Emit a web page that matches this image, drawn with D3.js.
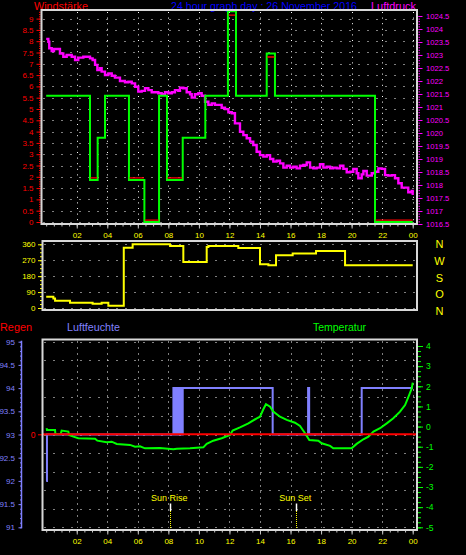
<!DOCTYPE html>
<html><head><meta charset="utf-8">
<script src="https://cdn.jsdelivr.net/npm/d3@7"></script>
<style>
html,body{margin:0;padding:0;background:#000;overflow:hidden;}
svg{display:block;}
text{font-family:"Liberation Sans",Arial,sans-serif;}
</style></head><body>
<svg id="c" width="466" height="555"></svg>
<script>
// ---------- DATA ----------
const hourTicks = [2,4,6,8,10,12,14,16,18,20,22,24];
const hourLabels = ["02","04","06","08","10","12","14","16","18","20","22","00"];
const windTicks = [0,0.5,1,1.5,2,2.5,3,3.5,4,4.5,5,5.5,6,6.5,7,7.5,8,8.5,9];
const windLabels = ["0","0.5","1","1.5","2","2.5","3","3.5","4","4.5","5","5.5","6","6.5","7","7.5","8","8.5","9"];
const pressTicks = [1016.5,1017,1017.5,1018,1018.5,1019,1019.5,1020,1020.5,1021,1021.5,1022,1022.5,1023,1023.5,1024,1024.5];
const pressLabels = ["1016.5","1017","1017.5","1018","1018.5","1019","1019.5","1020","1020.5","1021","1021.5","1022","1022.5","1023","1023.5","1024","1024.5"];
const dirTicks = [0,90,180,270,360];
const dirLabels = ["0","90","180","270","360"];
const dirLetters = ["N","W","S","O","N"];
const humTicks = [91,91.5,92,92.5,93,93.5,94,94.5,95];
const humLabels = ["91","91.5","92","92.5","93","93.5","94","94.5","95"];
const tempTicks = [-5,-4,-3,-2,-1,0,1,2,3,4];
const tempLabels = ["-5","-4","-3","-2","-1","0","1","2","3","4"];
const rainTicks = [0];
const rainLabels = ["0"];
const sunTimes = [8.13, 16.38];
const sunLabels = ["Sun Rise","Sun Set"];

// wind gust (green, step)  [hour, value]
const windGust = [[0,5.59],[2.87,1.86],[3.37,3.73],[3.85,5.59],[5.42,1.86],[6.43,0],[7.39,5.59],[7.91,1.86],[8.94,3.73],[10.42,5.59],[11.9,9.32],[12.43,5.59],[14.44,7.46],[14.98,5.59],[21.53,0],[24,0]];
// wind average (red) segments [start, end, value]
const windAvg = [[2.9,3.34,1.95],[5.45,6.4,1.95],[6.46,7.36,0.08],[7.94,8.91,1.95],[11.95,12.38,9.15],[14.48,14.95,7.3],[21.57,24,0.08]];
// pressure (magenta)
const pressure = [[0,1023.62],[0.14,1023.51],[0.2,1023.26],[0.36,1023.15],[0.51,1023.23],[0.86,1023.23],[0.9,1023.06],[1.12,1022.93],[1.34,1023.0],[1.67,1022.93],[1.89,1022.81],[2.1,1022.9],[2.43,1022.93],[2.76,1022.93],[2.87,1022.87],[3.04,1022.81],[3.2,1022.62],[3.35,1022.42],[3.52,1022.49],[3.63,1022.36],[3.85,1022.23],[4.07,1022.29],[4.29,1022.2],[4.5,1022.13],[4.83,1022.0],[5.16,1021.95],[5.38,1021.97],[5.6,1021.91],[5.82,1021.78],[6.03,1021.59],[6.25,1021.62],[6.47,1021.72],[6.69,1021.65],[6.91,1021.57],[7.13,1021.57],[7.34,1021.53],[7.56,1021.49],[7.78,1021.57],[8.0,1021.53],[8.22,1021.57],[8.43,1021.65],[8.65,1021.62],[8.76,1021.74],[8.98,1021.72],[9.2,1021.57],[9.42,1021.49],[9.53,1021.36],[9.74,1021.49],[9.96,1021.53],[10.18,1021.43],[10.4,1021.2],[10.62,1021.08],[10.84,1021.14],[11.05,1021.08],[11.27,1021.08],[11.49,1020.97],[11.71,1020.92],[11.93,1020.8],[12.15,1020.76],[12.36,1020.37],[12.69,1020.05],[12.91,1019.92],[13.13,1019.8],[13.35,1019.67],[13.56,1019.54],[13.78,1019.28],[14.0,1019.15],[14.22,1019.09],[14.44,1019.15],[14.66,1019.0],[14.87,1018.9],[15.09,1018.93],[15.31,1018.83],[15.53,1018.67],[15.75,1018.74],[15.97,1018.67],[16.18,1018.7],[16.4,1018.64],[16.62,1018.74],[16.84,1018.77],[17.06,1018.87],[17.28,1018.67],[17.49,1018.64],[17.71,1018.67],[17.93,1018.8],[18.15,1018.67],[18.37,1018.7],[18.59,1018.64],[18.8,1018.67],[19.02,1018.64],[19.24,1018.74],[19.46,1018.62],[19.68,1018.49],[19.9,1018.51],[20.11,1018.62],[20.33,1018.45],[20.44,1018.26],[20.66,1018.41],[20.77,1018.54],[20.99,1018.36],[21.32,1018.45],[21.53,1018.51],[21.75,1018.64],[21.97,1018.62],[22.19,1018.38],[22.4,1018.36],[22.63,1018.38],[22.84,1018.26],[23.06,1018.07],[23.28,1017.9],[23.5,1017.9],[23.71,1017.72],[23.93,1017.77],[24,1017.62]];
// wind direction (yellow)
const windDir = [[0,64],[0.36,64],[0.47,54],[0.58,41],[1.56,30],[3.04,24],[3.63,30],[4.07,13],[5.05,13],[5.08,341],[5.66,360],[8.11,350],[8.98,260],[10.51,345],[10.62,350],[12.58,339],[14.0,247],[14.55,242],[15.05,298],[16.14,308],[17.67,322],[19.57,242],[24,242]];
// humidity (blue, step)
const humidity = [[0,92],[0.05,93],[8.33,94],[8.40,93],[8.45,94],[8.52,93],[8.57,94],[8.64,93],[8.69,94],[8.76,93],[8.81,94],[8.88,93],[8.94,94],[14.83,93],[17.15,94],[17.22,93],[20.66,94],[24,94]];
// rain (red)
const rain = [[0,0],[24,0]];
// temperature (green)
const temperature = [[0.03,-0.08],[0.05,-0.17],[0.58,-0.17],[0.6,-0.38],[0.95,-0.37],[1.01,-0.2],[1.45,-0.25],[1.5,-0.42],[1.78,-0.5],[2.1,-0.58],[3.2,-0.6],[3.35,-0.7],[3.96,-0.78],[4.29,-0.75],[4.62,-0.86],[5.49,-0.91],[5.82,-1.0],[6.14,-0.98],[6.47,-1.08],[7.45,-1.06],[8.33,-1.13],[8.55,-1.1],[9.42,-1.08],[10.29,-1.03],[10.51,-0.86],[10.94,-0.7],[11.49,-0.58],[12.04,-0.42],[12.21,-0.2],[12.69,-0.04],[13.24,0.16],[13.79,0.41],[14.0,0.49],[14.22,0.86],[14.39,1.11],[14.66,0.99],[14.87,0.74],[15.31,0.49],[15.75,0.33],[16.29,0.19],[16.62,0.03],[16.95,-0.33],[17.23,-0.67],[17.82,-0.7],[18.04,-0.83],[18.59,-0.96],[18.8,-1.08],[20.0,-1.08],[20.33,-0.86],[20.77,-0.63],[21.1,-0.5],[21.43,-0.25],[21.86,-0.08],[22.3,0.16],[22.73,0.41],[23.17,0.74],[23.5,1.07],[23.72,1.48],[23.94,1.9],[24,2.18]];

// ---------- COLOURS ----------
const RED="#ff0000", MAG="#ff00ff", GRN="#00ff00", YEL="#ffff00", BLUE="#0000ff", HUM="#8080ff", FRAME="#d8d8d8";

// ---------- LAYOUT ----------
const svg = d3.select("#c");
svg.append("rect").attr("width",466).attr("height",555).attr("fill","#000");
const P1={l:41.5,r:417,t:10,b:224};
const P2={l:42.5,r:417,t:241,b:310};
const P3={l:42.5,r:417,t:339.5,b:530};

const x = d3.scaleLinear().domain([0,24]).range([46.2,412.7]);
const yWind = d3.scaleLinear().domain([0,9]).range([222,18.6]);
const yPress = d3.scaleLinear().domain([1016.5,1024.5]).range([224,16]);
const yDir = d3.scaleLinear().domain([0,360]).range([308,244.3]);
const yLetters = d3.scalePoint().domain(d3.range(dirLetters.length)).range([244.5,311]);
const yHum = d3.scaleLinear().domain([91,95]).range([527.3,341.7]);
const yTemp = d3.scaleLinear().domain([-5,4]).range([527.3,346]);
const yRain = d3.scaleLinear().domain([0,1]).range([434.3,341.7]);

function clip(id,P){
  svg.append("clipPath").attr("id",id).append("rect")
    .attr("x",P.l).attr("y",P.t).attr("width",P.r-P.l).attr("height",P.b-P.t);
}
clip("c1",P1);clip("c2",P2);clip("c3",P3);

function hgrid(vals,scale,P,dash){
  svg.append("g").selectAll("line").data(vals).join("line")
    .attr("x1",P.l+2).attr("x2",P.r-2)
    .attr("y1",d=>Math.round(scale(d))+0.5).attr("y2",d=>Math.round(scale(d))+0.5)
    .attr("stroke","#fff").attr("stroke-width",1).attr("stroke-dasharray",dash);
}
function vgrid(vals,P,dash){
  svg.append("g").selectAll("line").data(vals).join("line")
    .attr("x1",d=>Math.round(x(d))+0.5).attr("x2",d=>Math.round(x(d))+0.5)
    .attr("y1",P.t+2).attr("y2",P.b-2)
    .attr("stroke","#fff").attr("stroke-width",1).attr("stroke-dasharray",dash);
}
function frame(P){
  svg.append("rect").attr("x",P.l).attr("y",P.t).attr("width",P.r-P.l).attr("height",P.b-P.t)
    .attr("fill","none").attr("stroke",FRAME).attr("stroke-width",2);
}
function style(g,color,fs){
  g.attr("font-family",null).attr("font-size",null);
  g.select(".domain").remove();
  g.selectAll(".tick line").attr("stroke",color).attr("stroke-width",1);
  g.selectAll(".tick text").attr("fill",color).style("font-size",fs+"px");
  return g;
}
function label(txt,xx,yy,w,color,fs){
  svg.append("text").attr("x",xx).attr("y",yy).attr("fill",color).style("font-size",fs+"px")
    .attr("textLength",w).attr("lengthAdjust","spacingAndGlyphs").text(txt);
}

// ---------- HEADERS ----------
label("Windstärke",34,9.5,54,RED,11);
label("24 hour graph day : 26 November 2016",171,9.5,186,BLUE,11);
label("Luftdruck",371,9.5,45,MAG,11);
label("Regen",0,331,32,RED,11);
label("Luftfeuchte",67,331,53,HUM,11);
label("Temperatur",313,331,53,GRN,11);

// ---------- PANEL 1 ----------
hgrid(windTicks,yWind,P1,"1,8");
vgrid(hourTicks,P1,"1,4.6");

const halfHours = d3.range(0,48.5).map(i=>i/2);
style(svg.append("g").attr("transform",`translate(0,${P1.b})`)
  .call(d3.axisBottom(x).tickValues(halfHours).tickSize(2.5).tickFormat("")),"#c8c8c8",8);
style(svg.append("g").attr("transform",`translate(0,${P1.b})`)
  .call(d3.axisBottom(x).tickValues(hourTicks).tickSize(4.5).tickPadding(4).tickFormat((d,i)=>hourLabels[i])),"#c8c8c8",8)
  .selectAll(".tick text").attr("fill",YEL);

const windMinor = d3.range(0,94).map(i=>i/10);
style(svg.append("g").attr("transform",`translate(${P1.l-1},0)`)
  .call(d3.axisLeft(yWind).tickValues(windMinor).tickSize(1.5).tickFormat("")),RED,8);
style(svg.append("g").attr("transform",`translate(${P1.l-1},0)`)
  .call(d3.axisLeft(yWind).tickValues(windTicks).tickSize(4).tickPadding(3).tickFormat((d,i)=>windLabels[i])),RED,8);

const pressMinor = d3.range(0,81).map(i=>1016.5+i/10);
style(svg.append("g").attr("transform",`translate(${P1.r+1.5},0)`)
  .call(d3.axisRight(yPress).tickValues(pressMinor).tickSize(1.5).tickFormat("")),MAG,8);
style(svg.append("g").attr("transform",`translate(${P1.r+1.5},0)`)
  .call(d3.axisRight(yPress).tickValues(pressTicks).tickSize(4).tickPadding(3.5).tickFormat((d,i)=>pressLabels[i])),MAG,7.6);

const g1 = svg.append("g").attr("clip-path","url(#c1)");
g1.append("path").datum(pressure)
  .attr("d",d3.line().x(d=>x(d[0])).y(d=>yPress(d[1])).curve(d3.curveStepAfter))
  .attr("fill","none").attr("stroke",MAG).attr("stroke-width",2.4);
g1.append("path").datum(windGust)
  .attr("d",d3.line().x(d=>x(d[0])).y(d=>yWind(d[1])).curve(d3.curveStepAfter))
  .attr("fill","none").attr("stroke",GRN).attr("stroke-width",2);
g1.append("g").selectAll("line").data(windAvg).join("line")
  .attr("x1",d=>x(d[0])).attr("x2",d=>x(d[1]))
  .attr("y1",d=>yWind(d[2])).attr("y2",d=>yWind(d[2]))
  .attr("stroke",RED).attr("stroke-width",1.3);
frame(P1);

// ---------- PANEL 2 ----------
hgrid(dirTicks,yDir,P2,"1,8");
const dirMinor = d3.range(0,17).map(i=>i*22.5);
style(svg.append("g").attr("transform",`translate(${P2.l-0.5},0)`)
  .call(d3.axisLeft(yDir).tickValues(dirMinor).tickSize(2).tickFormat("")),YEL,8);
style(svg.append("g").attr("transform",`translate(${P2.l-0.5},0)`)
  .call(d3.axisLeft(yDir).tickValues(dirTicks).tickSize(4).tickPadding(2.5).tickFormat((d,i)=>dirLabels[i])),YEL,8);
svg.append("g").selectAll("text").data(dirLetters).join("text")
  .attr("x",439.5).attr("y",(d,i)=>yLetters(i)).attr("dy","0.36em")
  .attr("text-anchor","middle").attr("fill",YEL).style("font-size","11px").text(d=>d);
const g2 = svg.append("g").attr("clip-path","url(#c2)");
g2.append("path").datum(windDir)
  .attr("d",d3.line().x(d=>x(d[0])).y(d=>yDir(d[1])).curve(d3.curveStepAfter))
  .attr("fill","none").attr("stroke",YEL).attr("stroke-width",2);
frame(P2);

// ---------- PANEL 3 ----------
const humGrid = d3.range(0,11).map(i=>95-i*0.4);
hgrid(humGrid,yHum,P3,"1,8");
vgrid(hourTicks,P3,"1,5");

// sunrise / sunset markers
const sg = svg.append("g");
sg.selectAll("line.w").data(sunTimes).join("line").attr("class","w")
  .attr("x1",d=>Math.round(x(d))+0.5).attr("x2",d=>Math.round(x(d))+0.5)
  .attr("y1",503.5).attr("y2",511).attr("stroke","#fff").attr("stroke-width",1.5);
sg.selectAll("line.y").data(sunTimes).join("line").attr("class","y")
  .attr("x1",d=>Math.round(x(d))+0.5).attr("x2",d=>Math.round(x(d))+0.5)
  .attr("y1",511).attr("y2",P3.b-1).attr("stroke",YEL).attr("stroke-width",1).attr("stroke-dasharray","1,1");
sg.selectAll("text").data(sunTimes).join("text")
  .attr("x",d=>x(d)-1).attr("y",501).attr("text-anchor","middle")
  .attr("fill",YEL).style("font-size","9px").text((d,i)=>sunLabels[i]);

style(svg.append("g").attr("transform",`translate(0,${P3.b})`)
  .call(d3.axisBottom(x).tickValues(halfHours).tickSize(2.5).tickFormat("")),"#c8c8c8",8);
style(svg.append("g").attr("transform",`translate(0,${P3.b})`)
  .call(d3.axisBottom(x).tickValues(hourTicks).tickSize(4.5).tickPadding(4).tickFormat((d,i)=>hourLabels[i])),"#c8c8c8",8)
  .selectAll(".tick text").attr("fill",YEL);

// humidity axis (left, outside)
svg.append("line").attr("x1",21.5).attr("x2",21.5).attr("y1",yHum(95)-1).attr("y2",yHum(91)+1)
  .attr("stroke",HUM).attr("stroke-width",1.5);
const humMinor = d3.range(0,41).map(i=>91+i/10);
style(svg.append("g").attr("transform","translate(21.5,0)")
  .call(d3.axisLeft(yHum).tickValues(humMinor).tickSize(1.5).tickFormat("")),HUM,8);
style(svg.append("g").attr("transform","translate(21.5,0)")
  .call(d3.axisLeft(yHum).tickValues(humTicks).tickSize(3).tickPadding(3.5).tickFormat((d,i)=>humLabels[i])),HUM,8);

// rain axis
style(svg.append("g").attr("transform",`translate(${P3.l},0)`)
  .call(d3.axisLeft(yRain).tickValues(rainTicks).tickSize(4.5).tickPadding(2.5).tickFormat((d,i)=>rainLabels[i])),RED,8.5);

// temperature axis (right)
const tempMinor = d3.range(0,37).map(i=>-5+i/4);
style(svg.append("g").attr("transform",`translate(${P3.r+1},0)`)
  .call(d3.axisRight(yTemp).tickValues(tempMinor).tickSize(3).tickFormat("")),GRN,8);
style(svg.append("g").attr("transform",`translate(${P3.r+1},0)`)
  .call(d3.axisRight(yTemp).tickValues(tempTicks).tickSize(5).tickPadding(3).tickFormat((d,i)=>tempLabels[i])),GRN,8.5);

const g3 = svg.append("g").attr("clip-path","url(#c3)");
g3.append("path").datum(humidity)
  .attr("d",d3.line().x(d=>x(d[0])).y(d=>yHum(d[1])).curve(d3.curveStepAfter))
  .attr("fill","none").attr("stroke",HUM).attr("stroke-width",2);
svg.append("path").datum(rain)
  .attr("d",d3.line().x(d=>x(d[0])).y(d=>yRain(d[1])))
  .attr("fill","none").attr("stroke",RED).attr("stroke-width",2);
svg.append("line").attr("x1",P3.l).attr("x2",x(0)).attr("y1",yRain(0)).attr("y2",yRain(0))
  .attr("stroke",RED).attr("stroke-width",2);
svg.append("line").attr("x1",x(24)).attr("x2",P3.r-1).attr("y1",yRain(0)).attr("y2",yRain(0))
  .attr("stroke",RED).attr("stroke-width",2);
g3.append("path").datum(temperature)
  .attr("d",d3.line().x(d=>x(d[0])).y(d=>yTemp(d[1])))
  .attr("fill","none").attr("stroke",GRN).attr("stroke-width",2);
frame(P3);
</script>
</body></html>
